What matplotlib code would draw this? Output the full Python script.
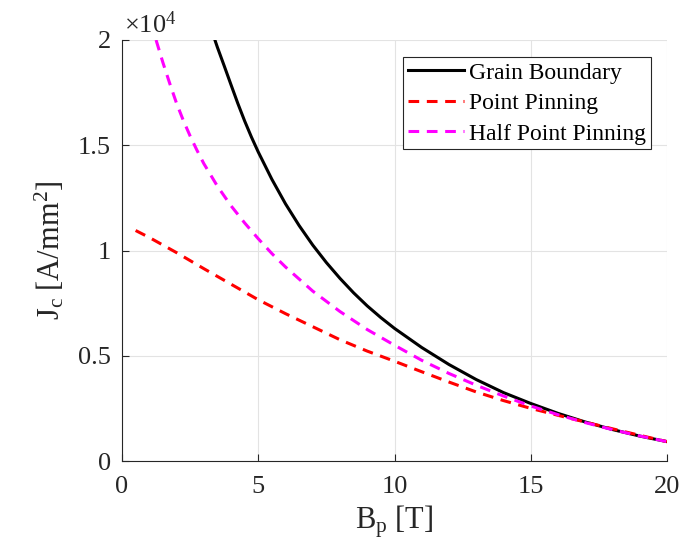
import matplotlib
matplotlib.use('Agg')
import matplotlib.pyplot as plt
from matplotlib.ticker import FuncFormatter

# values
b_gb = [3.41, 3.5, 3.75, 4, 4.25, 4.5, 4.75, 5, 5.5, 6, 6.5, 7, 7.5, 8, 8.5, 9,
        9.5, 10, 11, 12, 13, 14, 15, 16, 17, 18, 19, 20]
jc_gb = [20000, 19657, 18773, 17875, 16988, 16156, 15389, 14680, 13382, 12217,
         11185, 10257, 9427, 8675, 7988, 7367, 6811, 6300, 5391, 4583, 3869,
         3250, 2733, 2263, 1853, 1494, 1184, 920]

b_pp = [0.5, 1, 2, 3, 4, 5, 6, 7, 8, 9, 10, 11, 12, 13, 14, 15, 16, 17, 18, 19, 20]
jc_pp = [10950, 10620, 9900, 9140, 8400, 7660, 7000, 6380, 5760, 5220, 4740,
         4240, 3750, 3280, 2870, 2500, 2170, 1850, 1530, 1220, 920]

b_hpp = [1.25, 1.5, 1.75, 2, 2.25, 2.5, 2.75, 3, 3.5, 4, 4.5, 5, 5.5, 6, 7, 8,
         9, 10, 11, 12, 13, 14, 15, 16, 17, 18, 19, 20]
jc_hpp = [20000, 18933, 17943, 17000, 16178, 15440, 14764, 14133, 13057, 12125,
          11311, 10560, 9855, 9217, 8071, 7100, 6244, 5500, 4782, 4158, 3600,
          3086, 2613, 2200, 1824, 1489, 1189, 920]

xticks = [0, 5, 10, 15, 20]
yticks = [0, 5000, 10000, 15000, 20000]

plt.rcParams['font.family'] = ['Liberation Serif', 'DejaVu Serif']
plt.rcParams['mathtext.fontset'] = 'custom'
plt.rcParams['mathtext.rm'] = 'Liberation Serif'
plt.rcParams['mathtext.it'] = 'Liberation Serif:italic'

axc = '#262626'
fig = plt.figure(figsize=(6.92, 5.52), dpi=100)
ax = fig.add_axes([122 / 692, 91 / 552, 545 / 692, 421 / 552])

ax.plot(b_gb, jc_gb, color='black', lw=2.2, label='Grain Boundary')
ax.plot(b_pp, jc_pp, color='#ff0000', lw=2.2, ls=(0, (3.5, 2.5)), label='Point Pinning')
ax.plot(b_hpp, jc_hpp, color='#ff00ff', lw=2.2, ls=(0, (3.5, 2.5)), label='Half Point Pinning')

ax.set_xlim(0, 20)
ax.set_ylim(0, 20000)
ax.set_xticks(xticks)
ax.set_yticks(yticks)
ax.yaxis.set_major_formatter(FuncFormatter(lambda v, p: f'{v / 1e4:g}'))
ax.grid(True, color='#e3e3e3', lw=0.8)
ax.set_axisbelow(True)
for s in ['top', 'right']:
    ax.spines[s].set_visible(False)
for s in ['left', 'bottom']:
    ax.spines[s].set_color(axc)
    ax.spines[s].set_linewidth(0.8)
ax.tick_params(direction='in', length=5, width=0.8, colors=axc, labelsize=19, pad=8)
ax.tick_params(axis='x', pad=11)

ax.text(0.003, 1.017, r'$\times10^{4}$', transform=ax.transAxes, fontsize=19,
        color=axc, ha='left', va='baseline')

ax.set_xlabel(r'$\mathrm{B_{p}\ [T]}$', fontsize=22, color=axc, labelpad=4)
ax.set_ylabel(r'$\mathrm{J_{c}\ [A/mm^{2}]}$', fontsize=22, color=axc, labelpad=8)

leg = ax.legend(loc='upper right', bbox_to_anchor=(0.970, 0.959), borderaxespad=0,
                fontsize=17, fancybox=False, framealpha=1, edgecolor=axc,
                handlelength=2.4, handletextpad=0.2, labelspacing=0.38,
                borderpad=0.2)
leg.get_frame().set_linewidth(0.8)

fig.savefig('out.png', dpi=100)
